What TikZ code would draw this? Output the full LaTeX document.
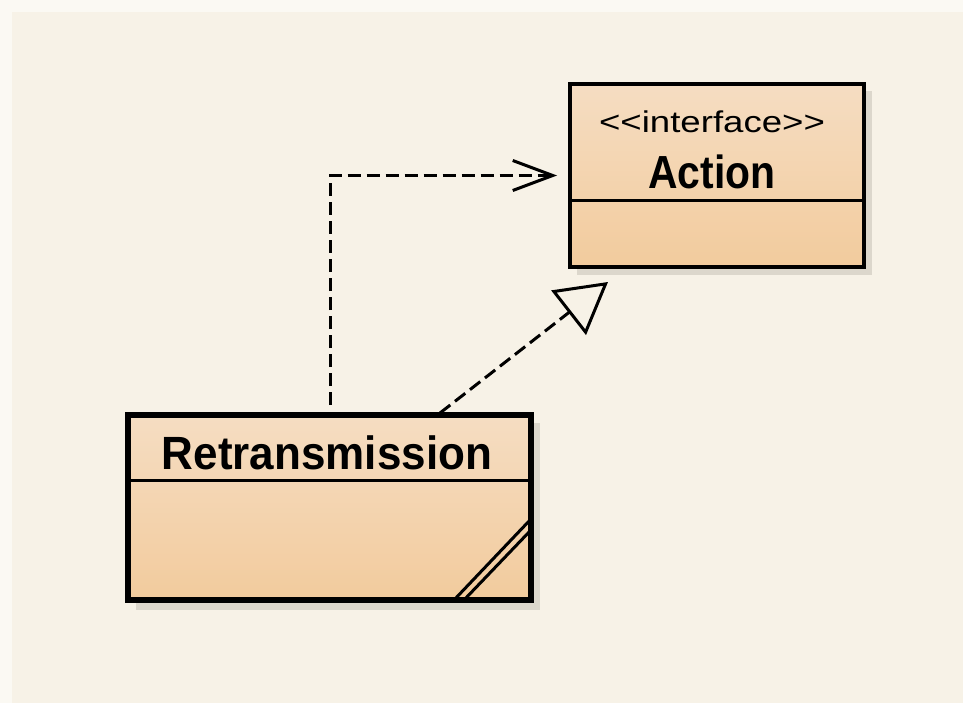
\documentclass[tikz,border=0pt]{standalone}
\usepackage{fontspec}
\setmainfont{Liberation Sans}
\usetikzlibrary{arrows.meta}
\definecolor{bg}{RGB}{247,242,231}
\definecolor{bgl}{RGB}{251,249,243}
\definecolor{peachtop}{RGB}{245,221,194}
\definecolor{peachmid}{RGB}{243,212,176}
\definecolor{peachbot}{RGB}{242,203,157}
\definecolor{shadowc}{RGB}{170,165,155}
\tikzset{
  classbox/.style={draw=black, top color=peachtop, bottom color=peachbot, inner sep=0pt},
  divider/.style={draw=black, line width=3pt},
  shadowbox/.style={fill=shadowc, fill opacity=0.35, draw=none},
  depline/.style={line width=3pt, dash pattern=on 13pt off 6pt},
  hatch/.style={line width=3pt},
  stereo/.style={font=\fontsize{30}{30}\selectfont},
  cname/.style={font=\bfseries\fontsize{43}{43}\selectfont}
}
\begin{document}
\begin{tikzpicture}[x=1pt,y=-1pt]
\useasboundingbox (0,0) rectangle (963,703);
\fill[bgl] (0,0) rectangle (963,703);
\fill[bg] (12,12) rectangle (963,703);
% shadows
\fill[shadowbox] (577,91) rectangle (872,275);
\fill[shadowbox] (136,423) rectangle (540,610);
% Action interface
\node[classbox, line width=4pt, minimum width=294pt, minimum height=183pt] (action) at (717,175.5) {};
\draw[divider] (action.west |- 0,201) -- (action.east |- 0,201);
\node[stereo] (stereo) at (712,122) {\scalebox{1.22}[1]{<{}<interface>{}>}};
\node[cname] (actname) at (712,172) {\scalebox{0.95}[1.08]{Action}};
% Retransmission class
\node[classbox, line width=6pt, minimum width=403pt, minimum height=185pt] (retr) at (329.5,507.5) {};
\draw[divider] (retr.west |- 0,480) -- (retr.east |- 0,480);
\node[cname, font=\bfseries\fontsize{44}{44}\selectfont] (retrname) at (327,453) {\scalebox{1}[1.06]{Retransmission}};
\begin{scope}
  \clip (128,415) rectangle (528,597);
  \draw[hatch] (454,600) -- (531,519);
  \draw[hatch] (464,600) -- (531,530);
\end{scope}
% connectors
\coordinate (depstart) at (330,405);
\coordinate (depend) at ([xshift=-11pt]action.west);
\draw[depline, -{Straight Barb[length=40pt, width=30pt]}] (depstart) |- (depend);
\coordinate (realstart) at (440,413);
\coordinate (realtip) at (608,282);
\draw[depline, -{Triangle[open, length=50pt, width=56pt]}] (realstart) -- (realtip);
\end{tikzpicture}
\end{document}
